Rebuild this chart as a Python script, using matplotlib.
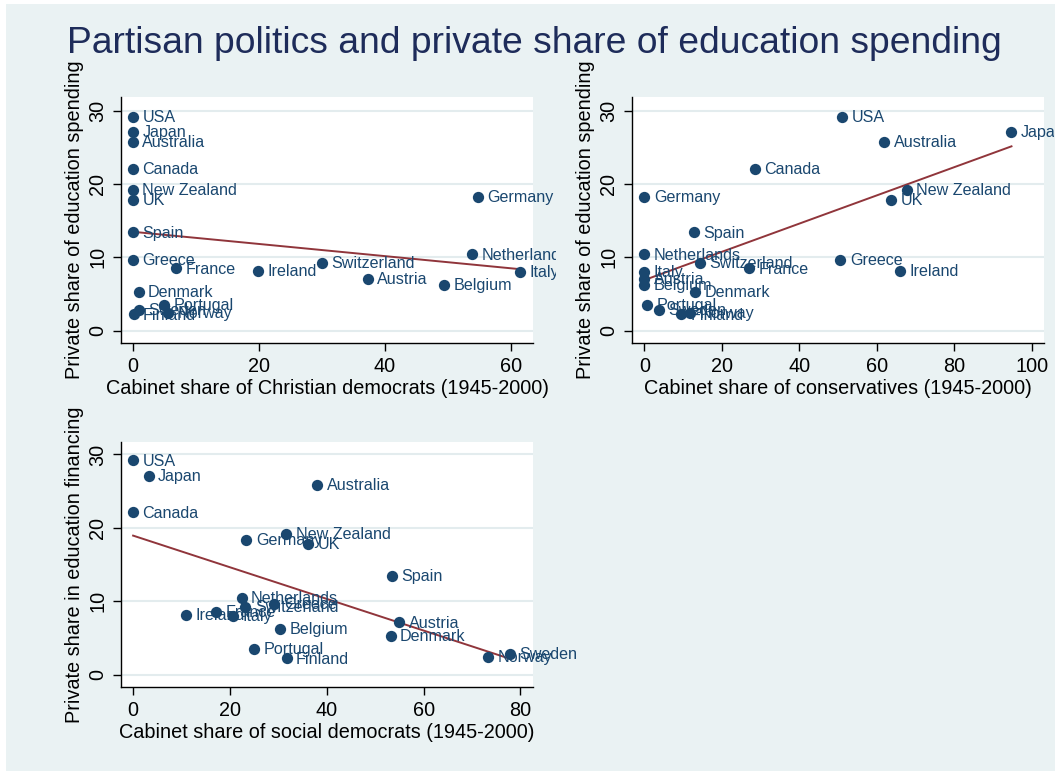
import matplotlib
matplotlib.use("Agg")
import matplotlib.pyplot as plt
from matplotlib.transforms import Bbox, TransformedBbox
import numpy as np

plt.rcParams['font.family'] = ['Liberation Sans', 'DejaVu Sans']

countries = ["USA", "Japan", "Australia", "Canada", "New Zealand", "UK", "Germany",
             "Spain", "Netherlands", "Greece", "France", "Ireland", "Switzerland",
             "Austria", "Italy", "Belgium", "Denmark", "Portugal", "Sweden",
             "Finland", "Norway"]

# private share of education spending (%)
private_share = [29.2, 27.1, 25.8, 22.1, 19.2, 17.8, 18.3,
                 13.4, 10.4, 9.6, 8.5, 8.1, 9.2,
                 7.1, 8.0, 6.2, 5.3, 3.5, 2.8,
                 2.2, 2.4]

# cabinet shares 1945-2000 (%)
christian_dem = [0.0, 0.0, 0.0, 0.0, 0.0, 0.0, 54.7,
                 0.0, 53.8, 0.0, 6.8, 19.9, 30.0,
                 37.3, 61.5, 49.4, 0.9, 4.9, 0.9,
                 0.1, 5.6]
conservatives = [51.0, 94.8, 62.0, 28.6, 67.8, 63.7, 0.0,
                 12.8, 0.0, 50.6, 27.1, 66.1, 14.4,
                 0.0, 0.0, 0.0, 13.1, 0.7, 3.8,
                 9.5, 11.9]
social_dem = [0.0, 3.2, 38.0, 0.0, 31.6, 36.2, 23.4,
              53.5, 22.4, 29.2, 17.1, 10.9, 23.2,
              55.0, 20.7, 30.4, 53.2, 25.0, 77.9,
              31.7, 73.4]

NAVY = '#1A476F'
MAROON = '#90353B'
BG = '#EAF2F3'
W, H = 1055, 771

fig = plt.figure(figsize=(W / 100, H / 100), dpi=100, facecolor='white')
fig.patches.append(plt.Rectangle((6 / W, 0), 1, 1 - 4 / H, transform=fig.transFigure,
                                 facecolor=BG, edgecolor='none', zorder=-10))

fig.text(67 / W, 1 - 53 / H, "Partisan politics and private share of education spending",
         fontsize=26.8, color='#1E2C5A', ha='left', va='baseline')


def panel(box, clip_right, x, y, xlim, ylim, xticks, xlabel, ylabel):
    left, top, right, bottom = box
    ax = fig.add_axes([left / W, 1 - bottom / H, (right - left) / W, (bottom - top) / H])
    ax.set_facecolor('white')
    ax.set_xlim(xlim)
    ax.set_ylim(ylim)
    for s in ('top', 'right'):
        ax.spines[s].set_visible(False)
    for s in ('left', 'bottom'):
        ax.spines[s].set_linewidth(1.0)
    ax.set_yticks([0, 10, 20, 30])
    ax.set_xticks(xticks)
    ax.yaxis.grid(True, color='#E3ECEE', linewidth=1.5)
    ax.set_axisbelow(True)
    ax.tick_params(length=6, width=1, labelsize=14.3, pad=4)
    ax.tick_params(axis='y', labelrotation=90)
    for lab in ax.get_yticklabels():
        lab.set_va('center')
    ax.set_xlabel(xlabel, fontsize=14.3, labelpad=2)
    ax.set_ylabel(ylabel, fontsize=14.3, labelpad=3)

    ax.scatter(x, y, s=66, color=NAVY, zorder=3, linewidths=0)

    # marker labels may run past the plot area, up to the panel's edge
    clip = TransformedBbox(Bbox([[left / W, 1 - bottom / H], [clip_right / W, 1 - top / H]]),
                           fig.transFigure)
    for name, xi, yi in zip(countries, x, y):
        t = ax.annotate(name, (xi, yi), xytext=(6.8, -0.5), textcoords='offset points',
                        fontsize=11.6, color=NAVY, va='center', ha='left',
                        annotation_clip=False, zorder=4)
        t.set_clip_box(clip)
        t.set_clip_on(True)

    # linear fit over the observed range
    slope, icept = np.polyfit(x, y, 1)
    xs = np.array([min(x), max(x)])
    ax.plot(xs, icept + slope * xs, color=MAROON, linewidth=1.4, zorder=2)
    return ax


panel((121, 97, 533, 343), 556, christian_dem, private_share, (-1.9, 63.5), (-1.7, 31.9),
      [0, 20, 40, 60], "Cabinet share of Christian democrats (1945-2000)",
      "Private share of education spending")
panel((632, 97, 1044, 343), 1054, conservatives, private_share, (-3.2, 103.2), (-1.7, 31.9),
      [0, 20, 40, 60, 80, 100], "Cabinet share of conservatives (1945-2000)",
      "Private share of education spending")
panel((121, 442, 533, 687), 600, social_dem, private_share, (-2.5, 82.6), (-1.7, 31.7),
      [0, 20, 40, 60, 80], "Cabinet share of social democrats (1945-2000)",
      "Private share in education financing")

fig.savefig("out.png", dpi=100, facecolor=fig.get_facecolor())
